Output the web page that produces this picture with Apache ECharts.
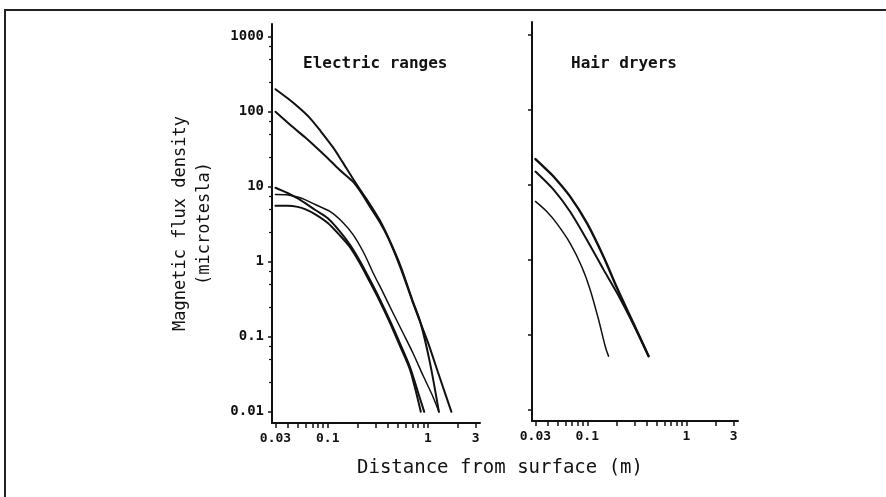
<!DOCTYPE html>
<html>
<head>
<meta charset="utf-8">
<script src="https://cdn.jsdelivr.net/npm/echarts@6/dist/echarts.min.js"></script>
<style>
html,body{margin:0;padding:0;background:#fff;}
#chart{width:886px;height:497px;}
</style>
</head>
<body>
<div id="chart"></div>
<script>
// ---------- data ----------
const panelTitles = ['Electric ranges', 'Hair dryers'];
const xTitle = 'Distance from surface (m)';
const yTitle = 'Magnetic flux density\n(microtesla)';

const xTickValues = [0.03,0.04,0.05,0.06,0.07,0.08,0.09,0.1,0.2,0.3,0.4,0.5,0.6,0.7,0.8,0.9,1,2,3];
const xLabelValues = [0.03,0.1,1,3];
const yLabelValues = [0.01,0.1,1,10,100,1000];
const yMinorTickValues = [0.025,0.05,0.075,0.25,0.5,0.75,2.5,5,7.5,25,50,75,250,500,750];

// Electric ranges: [distance m, flux density microtesla]
const range1 = [[0.03,200],[0.04,150],[0.052,112],[0.066,83],[0.085,55],[0.112,34],[0.14,21.5],[0.174,13.5],[0.21,9.2],[0.263,5.9],[0.33,3.6],[0.417,1.9],[0.53,0.9],[0.7,0.31],[0.85,0.15],[1.05,0.045],[1.29,0.01]];
const range2 = [[0.03,100],[0.045,62],[0.06,45],[0.074,35],[0.1,24],[0.13,17],[0.175,12],[0.21,8.8],[0.26,5.6],[0.33,3.4],[0.4,2.1],[0.53,0.85],[0.7,0.3],[0.85,0.15],[1.0,0.085],[1.3,0.03],[1.72,0.01]];
const range3 = [[0.03,9.7],[0.035,8.9],[0.04,8.2],[0.05,7.0],[0.06,6.0],[0.075,4.9],[0.1,3.8],[0.13,2.6],[0.166,1.7],[0.21,1.02],[0.263,0.58],[0.33,0.32],[0.417,0.165],[0.53,0.08],[0.66,0.04],[0.8,0.018],[0.92,0.01]];
const range4 = [[0.03,7.9],[0.04,7.8],[0.05,7.3],[0.06,6.7],[0.075,5.8],[0.105,4.7],[0.14,3.4],[0.179,2.3],[0.23,1.3],[0.284,0.71],[0.36,0.38],[0.45,0.206],[0.57,0.11],[0.713,0.06],[0.9,0.03],[1.1,0.017],[1.29,0.01]];
const range5 = [[0.03,5.6],[0.04,5.6],[0.05,5.4],[0.06,5.0],[0.075,4.3],[0.1,3.3],[0.13,2.3],[0.166,1.58],[0.21,0.95],[0.263,0.54],[0.33,0.3],[0.417,0.155],[0.53,0.074],[0.66,0.037],[0.75,0.02],[0.85,0.01]];

// Hair dryers
const dryer1 = [[0.03,22],[0.037,17],[0.0457,12.9],[0.067,7.0],[0.099,3.1],[0.146,1.1],[0.2,0.42],[0.294,0.14],[0.416,0.052]];
const dryer2 = [[0.03,15],[0.0457,8.6],[0.067,4.4],[0.099,1.85],[0.146,0.74],[0.2,0.36],[0.294,0.135],[0.416,0.052]];
const dryer3 = [[0.03,6.0],[0.039,4.4],[0.049,3.08],[0.067,1.67],[0.088,0.81],[0.107,0.4],[0.13,0.16],[0.152,0.07],[0.164,0.052]];

// ---------- chart ----------
const MONO = 'DejaVu Sans Mono';
const INK = '#111';
const X_MIN = 0.0277, X_MAX = 3.32;
const Y_MIN = 0.0071, Y_MAX = 1480;

function fmt(v){ return String(+Number(v).toPrecision(3)); }

function xAxisFor(i){
  return {
    type:'log', logBase:10, gridIndex:i, min:X_MIN, max:X_MAX,
    axisLine:{show:true, onZero:false, lineStyle:{color:INK, width:2}},
    axisTick:{show:true, customValues:xTickValues, length:5, lineStyle:{color:INK, width:1.5}},
    axisLabel:{show:true, customValues:xLabelValues, formatter:fmt, margin:9,
      color:INK, fontFamily:MONO, fontSize:13, fontWeight:'bold'},
    splitLine:{show:false}, minorTick:{show:false}, minorSplitLine:{show:false}
  };
}

const series = [];
function addLine(data, xi, w){
  series.push({type:'line', xAxisIndex:xi, yAxisIndex:xi===0?0:2, data:data,
    showSymbol:false, symbol:'none', smooth:0.3,
    lineStyle:{color:INK, width:w, cap:'round', join:'round'}, silent:true});
}
addLine(range1,0,2); addLine(range2,0,2); addLine(range3,0,2);
addLine(range4,0,1.5); addLine(range5,0,2);
addLine(dryer1,1,2.4); addLine(dryer2,1,2); addLine(dryer3,1,1.5);

const option = {
  animation:false,
  backgroundColor:'#fff',
  title:[
    {text:panelTitles[0], left:303, top:56, padding:0,
      textStyle:{fontFamily:MONO, fontSize:16, fontWeight:'bold', color:INK}},
    {text:panelTitles[1], left:571, top:56, padding:0,
      textStyle:{fontFamily:MONO, fontSize:16, fontWeight:'bold', color:INK}},
    {text:xTitle, left:357, top:459, padding:0,
      textStyle:{fontFamily:MONO, fontSize:19, fontWeight:'normal', color:INK}}
  ],
  grid:[
    {left:272, right:406, top:24, bottom:74, containLabel:false, outerBoundsMode:'none'},
    {left:532, right:148, top:22, bottom:76, containLabel:false, outerBoundsMode:'none'}
  ],
  xAxis:[xAxisFor(0), xAxisFor(1)],
  yAxis:[
    {type:'log', logBase:10, gridIndex:0, min:Y_MIN, max:Y_MAX, position:'left',
      name:yTitle, nameLocation:'middle', nameGap:55, nameRotate:90,
      nameTextStyle:{fontFamily:MONO, fontSize:17, lineHeight:24, color:INK},
      axisLine:{show:true, onZero:false, lineStyle:{color:INK, width:2}},
      axisTick:{show:true, customValues:yLabelValues, length:4, lineStyle:{color:INK, width:1.5}},
      axisLabel:{show:true, customValues:yLabelValues, formatter:fmt, margin:8,
        color:INK, fontFamily:MONO, fontSize:14, fontWeight:'bold'},
      splitLine:{show:false}, minorTick:{show:false}},
    {type:'log', logBase:10, gridIndex:0, min:Y_MIN, max:Y_MAX, position:'left',
      axisLine:{show:false},
      axisTick:{show:true, customValues:yMinorTickValues, length:3, lineStyle:{color:INK, width:1.2}},
      axisLabel:{show:false}, splitLine:{show:false}},
    {type:'log', logBase:10, gridIndex:1, min:Y_MIN, max:Y_MAX, position:'left',
      axisLine:{show:true, onZero:false, lineStyle:{color:INK, width:2}},
      axisTick:{show:true, customValues:yLabelValues, length:4, lineStyle:{color:INK, width:1.5}},
      axisLabel:{show:false}, splitLine:{show:false}}
  ],
  graphic:[
    {type:'polyline', silent:true, shape:{points:[[5,497],[5,10],[886,10]]},
      style:{stroke:'#222', lineWidth:2, fill:null}}
  ],
  series:series
};

const chart = echarts.init(document.getElementById('chart'), null, {renderer:'canvas'});
chart.setOption(option);
</script>
</body>
</html>
